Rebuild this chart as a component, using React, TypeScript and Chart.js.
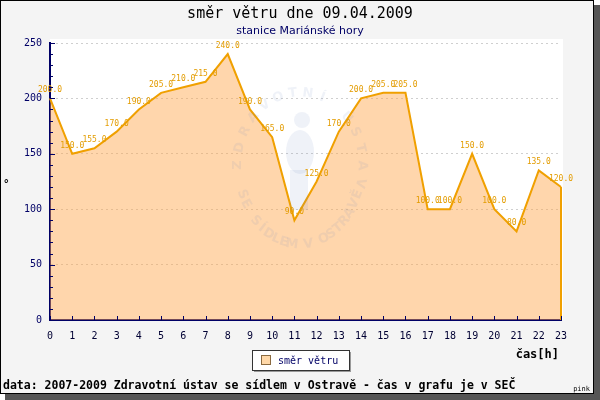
import React, { useEffect, useRef } from 'react';
import { Chart, registerables } from 'chart.js';

Chart.register(...registerables);

const hours = ['0', '1', '2', '3', '4', '5', '6', '7', '8', '9', '10', '11', '12', '13', '14', '15', '16', '17', '18', '19', '20', '21', '22', '23'];
const windDirection = [200, 150, 155, 170, 190, 205, 210, 215, 240, 190, 165, 90, 125, 170, 200, 205, 205, 100, 100, 150, 100, 80, 135, 120];
const yMin = 0;
const yMax = 250;
const yMajorStep = 50;
const yMinorStep = 10;

const titleText = 'směr větru dne 09.04.2009';
const subtitleText = 'stanice Mariánské hory';
const seriesName = 'směr větru';
const xAxisTitle = 'čas[h]';
const yAxisTitle = '°';
const footerText = 'data: 2007-2009 Zdravotní ústav se sídlem v Ostravě - čas v grafu je v SEČ';
const cornerText = 'pink';
const watermarkTop = 'ZDRAVOTNÍ ÚSTAV';
const watermarkBottom = 'SE SÍDLEM V OSTRAVĚ';

const NAVY = '#000066';
const LINE = '#f0a000';
const MONO = '"DejaVu Sans Mono", monospace';
const WM = 'rgba(110,140,195,0.11)';

function arcText(ctx: any, text: string, cx: number, cy: number, rx: number, ry: number, a0: number, a1: number, outward: boolean) {
  const n = text.length;
  for (let i = 0; i < n; i++) {
    const t = n === 1 ? 0.5 : i / (n - 1);
    const a = a0 + (a1 - a0) * t;
    ctx.save();
    ctx.translate(cx + rx * Math.cos(a), cy + ry * Math.sin(a));
    ctx.rotate(outward ? a + Math.PI / 2 : a - Math.PI / 2);
    ctx.fillText(text[i], 0, 0);
    ctx.restore();
  }
}

const framePlugin = {
  id: 'frame',
  beforeDraw(chart: any) {
    const { ctx, chartArea } = chart;
    ctx.save();
    ctx.fillStyle = '#555555';
    ctx.fillRect(5, 5, 595, 395);
    ctx.fillStyle = '#f4f4f4';
    ctx.fillRect(0, 0, 594, 394);
    ctx.strokeStyle = '#000000';
    ctx.lineWidth = 1;
    ctx.strokeRect(0.5, 0.5, 593, 393);
    ctx.fillStyle = '#ffffff';
    ctx.fillRect(chartArea.left, chartArea.top - 4, chartArea.right - chartArea.left + 2, chartArea.bottom - chartArea.top + 4);
    ctx.restore();
  },
};

const decorPlugin = {
  id: 'decor',
  afterDatasetsDraw(chart: any) {
    const { ctx } = chart;
    const meta = chart.getDatasetMeta(0);
    const yScale = chart.scales.y;
    const pts = meta.data;
    ctx.save();
    // faint watermark
    const cx = 300, cy = 165;
    ctx.fillStyle = WM;
    ctx.font = 'bold 13px "DejaVu Sans", sans-serif';
    ctx.textAlign = 'center';
    ctx.textBaseline = 'middle';
    arcText(ctx, watermarkTop, cx, cy, 62, 72, Math.PI * 1.0, Math.PI * 2.08, true);
    arcText(ctx, watermarkBottom, cx, cy, 62, 80, Math.PI * 0.88, Math.PI * 0.12, false);
    ctx.beginPath();
    ctx.arc(302, 120, 8, 0, Math.PI * 2);
    ctx.fill();
    ctx.beginPath();
    ctx.ellipse(300, 152, 14, 22, 0, 0, Math.PI * 2);
    ctx.fill();
    ctx.fillRect(290, 170, 18, 40);
    // closing vertical line at the last point
    const last = pts[pts.length - 1];
    ctx.strokeStyle = LINE;
    ctx.lineWidth = 2;
    ctx.beginPath();
    ctx.moveTo(last.x, last.y);
    ctx.lineTo(last.x, yScale.getPixelForValue(0));
    ctx.stroke();
    // value labels
    ctx.font = `8px ${MONO}`;
    ctx.fillStyle = '#e39c00';
    ctx.textAlign = 'center';
    ctx.textBaseline = 'middle';
    pts.forEach((p: any, i: number) => {
      ctx.fillText(windDirection[i].toFixed(1), p.x, p.y - 8);
    });
    ctx.restore();
  },
  afterDraw(chart: any) {
    const { ctx, chartArea } = chart;
    const xScale = chart.scales.x;
    const yScale = chart.scales.y;
    ctx.save();
    ctx.strokeStyle = NAVY;
    ctx.lineWidth = 1;
    for (let v = yMin; v <= yMax; v += yMinorStep) {
      const y = Math.round(yScale.getPixelForValue(v)) + 0.5;
      const len = v % yMajorStep === 0 ? 5 : 3;
      ctx.beginPath();
      ctx.moveTo(chartArea.left, y);
      ctx.lineTo(chartArea.left + len, y);
      ctx.stroke();
    }
    hours.forEach((_, i) => {
      const x = Math.round(xScale.getPixelForValue(i)) + 0.5;
      ctx.beginPath();
      ctx.moveTo(x, chartArea.bottom);
      ctx.lineTo(x, chartArea.bottom - 4);
      ctx.stroke();
    });
    ctx.textAlign = 'center';
    ctx.textBaseline = 'middle';
    ctx.fillStyle = '#000000';
    ctx.font = `15px ${MONO}`;
    ctx.fillText(titleText, 300, 14);
    ctx.fillStyle = NAVY;
    ctx.font = '11px "DejaVu Sans", sans-serif';
    ctx.fillText(subtitleText, 300, 31);
    ctx.fillStyle = '#000000';
    ctx.font = `bold 11px ${MONO}`;
    ctx.textAlign = 'left';
    ctx.fillText(yAxisTitle, 3, 184);
    ctx.textAlign = 'right';
    ctx.font = `bold 12px ${MONO}`;
    ctx.fillText(xAxisTitle, 559, 355);
    ctx.textAlign = 'left';
    ctx.font = `bold 11.5px ${MONO}`;
    ctx.fillText(footerText, 3, 386);
    ctx.font = `7px ${MONO}`;
    ctx.textAlign = 'right';
    ctx.fillText(cornerText, 590, 389);
    const lx = 252, ly = 350, lw = 97, lh = 20;
    ctx.fillStyle = '#999999';
    ctx.fillRect(lx + 2, ly + 2, lw, lh);
    ctx.fillStyle = '#ffffff';
    ctx.fillRect(lx, ly, lw, lh);
    ctx.strokeStyle = '#333333';
    ctx.strokeRect(lx + 0.5, ly + 0.5, lw, lh);
    ctx.fillStyle = '#ffd8a8';
    ctx.fillRect(261, 355, 9, 9);
    ctx.strokeStyle = '#8a6a40';
    ctx.strokeRect(261.5, 355.5, 9, 9);
    ctx.fillStyle = NAVY;
    ctx.textAlign = 'left';
    ctx.font = `10px ${MONO}`;
    ctx.fillText(seriesName, 278, 361);
    ctx.restore();
  },
};

export default function App() {
  const ref = useRef<HTMLCanvasElement | null>(null);
  useEffect(() => {
    if (!ref.current) return;
    const chart = new Chart(ref.current, {
      type: 'line',
      data: {
        labels: hours,
        datasets: [
          {
            label: seriesName,
            data: windDirection,
            borderColor: LINE,
            borderWidth: 2,
            backgroundColor: 'rgba(255,165,70,0.45)',
            fill: 'origin',
            pointRadius: 0,
            tension: 0,
          },
        ],
      },
      options: {
        responsive: false,
        animation: false,
        layout: { padding: { left: 0, right: 39, top: 43, bottom: 50 } },
        plugins: {
          legend: { display: false },
          tooltip: { enabled: false },
          title: { display: false },
        },
        scales: {
          x: {
            type: 'category',
            offset: false,
            grid: { display: false, drawTicks: false },
            border: { color: NAVY, width: 2 },
            ticks: { color: '#000033', font: { family: 'DejaVu Sans Mono', size: 10 }, padding: 10, maxRotation: 0, autoSkip: false },
            afterFit: (s: any) => { s.height = 30; },
          },
          y: {
            min: yMin,
            max: yMax,
            ticks: {
              stepSize: yMinorStep,
              autoSkip: false,
              color: NAVY,
              font: { family: 'DejaVu Sans Mono', size: 10 },
              padding: 8,
              callback: (v: any) => (Number(v) % yMajorStep === 0 ? String(v) : ''),
            },
            grid: {
              drawTicks: false,
              color: (c: any) => (c.tick && c.tick.value % yMajorStep === 0 && c.tick.value > 0 ? '#cfcfcf' : 'rgba(0,0,0,0)'),
              lineWidth: 1,
            },
            border: { color: NAVY, width: 2, dash: [2, 3] },
            afterFit: (s: any) => { s.width = 50; },
          },
        },
      } as any,
      plugins: [framePlugin, decorPlugin],
    });
    return () => chart.destroy();
  }, []);
  return (
    <div style={{ position: 'absolute', left: 0, top: 0, width: 600, height: 400 }}>
      <canvas ref={ref} width={600} height={400} style={{ display: 'block' }} />
    </div>
  );
}
